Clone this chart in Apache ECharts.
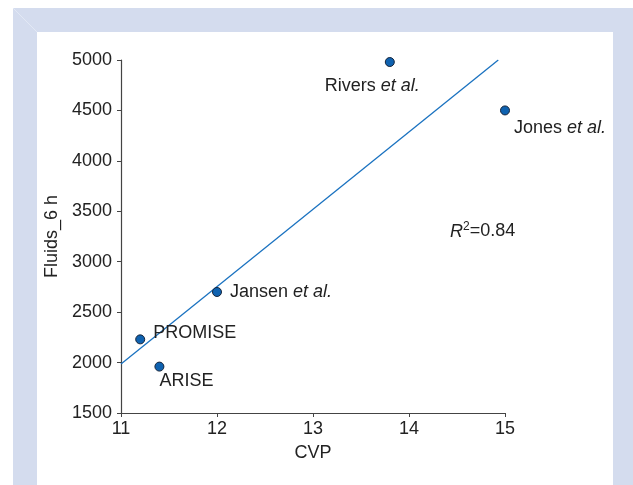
<!DOCTYPE html>
<html><head><meta charset="utf-8">
<script src="https://cdn.jsdelivr.net/npm/echarts@6/dist/echarts.min.js"></script>
<style>html,body{margin:0;padding:0;background:#fff}#c{width:633px;height:485px}</style>
</head><body><div id="c"></div>
<script>
const studyNames = ['PROMISE', 'ARISE', 'Jansen', 'Rivers', 'Jones'];
const studyEtAl = [false, false, true, true, true];
const cvpValues = [11.2, 11.4, 12, 13.8, 15];
const fluidValues = [2230, 1960, 2700, 4980, 4500];
const fitX = [11, 14.93];
const fitY = [1985, 5000];
const xTicks = { min: 11, max: 15, interval: 1 };
const yTicks = { min: 1500, max: 5000, interval: 500 };
const r2Text = '0.84';

const FONT = '"Liberation Sans", Arial, sans-serif';
const TXT = '#222';
const labelOffsets = [[8, -6], [-5, 14], [8, 0], [-70, 24], [4, 18]];

const scatterData = studyNames.map((n, i) => ({
  value: [cvpValues[i], fluidValues[i]],
  label: {
    show: true, position: 'right', distance: 0, offset: labelOffsets[i],
    color: TXT, opacity: 1,
    formatter: studyEtAl[i] ? '{n|' + n + ' }{i|et al.}' : '{n|' + n + '}',
    rich: {
      n: { fontFamily: FONT, fontSize: 18, color: TXT },
      i: { fontFamily: FONT, fontSize: 18, color: TXT, fontStyle: 'italic' }
    }
  }
}));

const chart = echarts.init(document.getElementById('c'));
chart.setOption({
  animation: false,
  backgroundColor: '#fff',
  graphic: [
    { type: 'rect', shape: { x: 13, y: 8, width: 620, height: 477 }, style: { fill: '#d4dcee' }, z: -10, silent: true },
    { type: 'line', shape: { x1: 13, y1: 8, x2: 37, y2: 32 }, style: { stroke: '#e2e8f4', lineWidth: 1 }, z: -9, silent: true },
    { type: 'rect', shape: { x: 37, y: 32, width: 576, height: 453 }, style: { fill: '#ffffff' }, z: -8, silent: true },
    { type: 'text', left: 450, top: 221, z: 10,
      style: {
        text: '{i|R}{s|2}{n|=' + r2Text + '}',
        rich: {
          i: { fontFamily: FONT, fontSize: 18, fontStyle: 'italic', fill: TXT },
          s: { fontFamily: FONT, fontSize: 12, fill: TXT, padding: [0, 0, 9, 0] },
          n: { fontFamily: FONT, fontSize: 18, fill: TXT }
        }
      }
    }
  ],
  grid: { left: 121, top: 60, right: 128, bottom: 72 },
  xAxis: {
    type: 'value', min: xTicks.min, max: xTicks.max, interval: xTicks.interval,
    name: 'CVP', nameLocation: 'middle', nameGap: 31,
    nameTextStyle: { fontFamily: FONT, fontSize: 18, color: TXT },
    splitLine: { show: false },
    axisLine: { show: true, lineStyle: { color: '#444', width: 1.2 } },
    axisTick: { show: true, length: 4, lineStyle: { color: '#444' } },
    axisLabel: { fontFamily: FONT, fontSize: 18, color: TXT, margin: 7 }
  },
  yAxis: {
    type: 'value', min: yTicks.min, max: yTicks.max, interval: yTicks.interval,
    name: 'Fluids_6 h', nameLocation: 'middle', nameGap: 57, nameRotate: 90,
    nameTextStyle: { fontFamily: FONT, fontSize: 18, color: TXT },
    splitLine: { show: false },
    axisLine: { show: true, lineStyle: { color: '#444', width: 1.2 } },
    axisTick: { show: true, length: 4, lineStyle: { color: '#444' } },
    axisLabel: { fontFamily: FONT, fontSize: 18, color: TXT, margin: 9, formatter: v => String(v) }
  },
  series: [
    {
      type: 'line', data: fitX.map((x, i) => [x, fitY[i]]),
      showSymbol: false, symbol: 'none', silent: true,
      lineStyle: { color: '#1a72c0', width: 1.3 }, z: 2
    },
    {
      type: 'scatter', data: scatterData, symbolSize: 9,
      itemStyle: { color: '#0f62b0', borderColor: '#16243a', borderWidth: 1, opacity: 1 }, z: 3
    }
  ]
});
</script></body></html>
